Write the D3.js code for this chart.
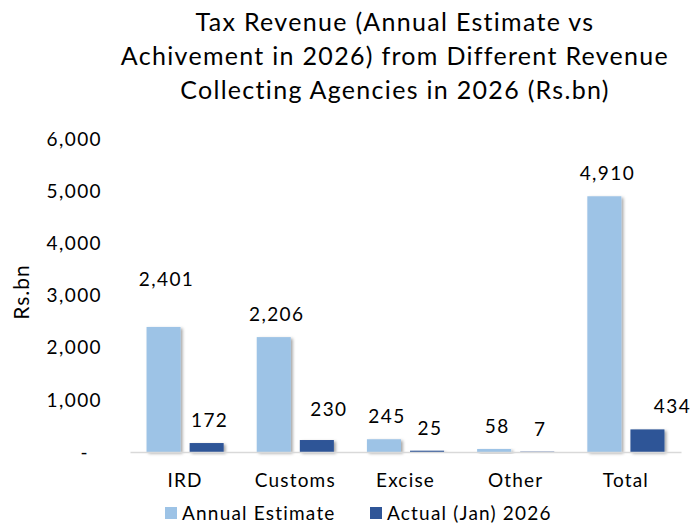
<!DOCTYPE html>
<html>
<head>
<meta charset="utf-8">
<script src="https://cdn.jsdelivr.net/npm/d3@7/dist/d3.min.js"></script>
<style>
  html, body { margin: 0; padding: 0; background: #fff; }
  svg { display: block; }
  text { font-family: Lato, "Open Sans", sans-serif; fill: #000; }
</style>
</head>
<body>
<svg id="chart" width="692" height="527"></svg>
<script>
// ---- data ----
const titleLines = [
  "Tax Revenue (Annual Estimate vs",
  "Achivement in 2026) from Different Revenue",
  "Collecting Agencies in 2026 (Rs.bn)"
];
const categories = ["IRD", "Customs", "Excise", "Other", "Total"];
const seriesNames = ["Annual Estimate", "Actual (Jan) 2026"];
const annualEstimate = [2401, 2206, 245, 58, 4910];
const actualJan2026 = [172, 230, 25, 7, 434];
const yTicks = [0, 1000, 2000, 3000, 4000, 5000, 6000];
const yAxisLabel = "Rs.bn";

// manual label nudges (as placed in the original), [dx, dy] in px
const labelNudge = {
  "Annual Estimate": [[0, -25], [0, 0], [0, 0], [0, 0], [0, 0]],
  "Actual (Jan) 2026": [[0, 0], [9, -8], [0, 0], [0, 0], [22, 0]]
};

const colors = { "Annual Estimate": "#9dc3e6", "Actual (Jan) 2026": "#2f5597" };
const seriesValues = { "Annual Estimate": annualEstimate, "Actual (Jan) 2026": actualJan2026 };

const svg = d3.select("#chart");
const fmt = d3.format(",");
const LS = "1.2px";

const defs = svg.append("defs");
const f = defs.append("filter").attr("id", "shadow")
  .attr("x", "-20%").attr("y", "-20%").attr("width", "160%").attr("height", "160%");
f.append("feDropShadow").attr("dx", 2).attr("dy", 1.5).attr("stdDeviation", 1.5)
  .attr("flood-color", "#000").attr("flood-opacity", 0.35);

// title
svg.append("g").selectAll("text").data(titleLines).join("text")
  .attr("x", 395).attr("y", (d, i) => 31 + i * 34)
  .attr("text-anchor", "middle")
  .style("font-size", "25px").style("letter-spacing", "1.3px")
  .text(d => d);

const x0 = d3.scaleBand().domain(categories).range([130, 681])
  .paddingInner(0.3).paddingOuter(0.15);
const x1 = d3.scaleBand().domain(seriesNames).range([0, x0.bandwidth()])
  .paddingInner(0.21).paddingOuter(0);
const y = d3.scaleLinear().domain([0, 6000]).range([452, 139.5]);

// y axis (labels only)
const yAxis = d3.axisLeft(y).tickValues(yTicks).tickSize(0).tickPadding(0)
  .tickFormat(d => d === 0 ? "-" : fmt(d));
const gy = svg.append("g").attr("transform", "translate(102,0)").call(yAxis);
gy.select(".domain").remove();
gy.selectAll("text").style("font-size", "19px").style("letter-spacing", "1.4px")
  .attr("fill", "#000")
  .attr("dx", d => d === 0 ? -13 : 0);

// y axis title
svg.append("text")
  .attr("transform", "translate(29,292) rotate(-90)")
  .attr("text-anchor", "middle")
  .style("font-size", "21px").style("letter-spacing", "1px")
  .text(yAxisLabel);

// bars
const groups = svg.append("g").selectAll("g").data(categories).join("g")
  .attr("transform", d => `translate(${x0(d)},0)`);

groups.selectAll("rect")
  .data((c, i) => seriesNames.map(s => ({ s, i, v: seriesValues[s][i] })))
  .join("rect")
  .attr("x", d => x1(d.s))
  .attr("y", d => y(d.v))
  .attr("width", x1.bandwidth())
  .attr("height", d => y(0) - y(d.v))
  .attr("fill", d => colors[d.s])
  .attr("filter", "url(#shadow)");

// x axis line
const xa = d3.axisBottom(x0).tickSize(0).tickPadding(0);
const gx = svg.append("g").attr("transform", `translate(0,${y(0)})`).call(xa);
gx.select(".domain").attr("stroke", "#d9d9d9").attr("stroke-width", 1.5);
gx.selectAll("text").style("font-size", "19px").style("letter-spacing", LS)
  .attr("fill", "#000")
  .attr("dy", "1.85em");

// value labels
groups.selectAll("text.val")
  .data((c, i) => seriesNames.map(s => ({ s, i, v: seriesValues[s][i] })))
  .join("text").attr("class", "val")
  .attr("x", d => x1(d.s) + x1.bandwidth() / 2 + 3 + labelNudge[d.s][d.i][0])
  .attr("y", d => y(d.v) - 16 + labelNudge[d.s][d.i][1])
  .attr("text-anchor", "middle")
  .style("font-size", "19px").style("letter-spacing", "1.4px")
  .text(d => fmt(d.v));

// legend
const leg = svg.append("g").attr("transform", "translate(0,513)");
const legX = [165, 370];
seriesNames.forEach((s, i) => {
  leg.append("rect").attr("x", legX[i]).attr("y", -6).attr("width", 12).attr("height", 12)
    .attr("fill", colors[s]);
  leg.append("text").attr("x", legX[i] + 17).attr("y", 0).attr("dy", "0.35em")
    .style("font-size", "19px").style("letter-spacing", LS).text(s);
});
</script>
</body>
</html>
